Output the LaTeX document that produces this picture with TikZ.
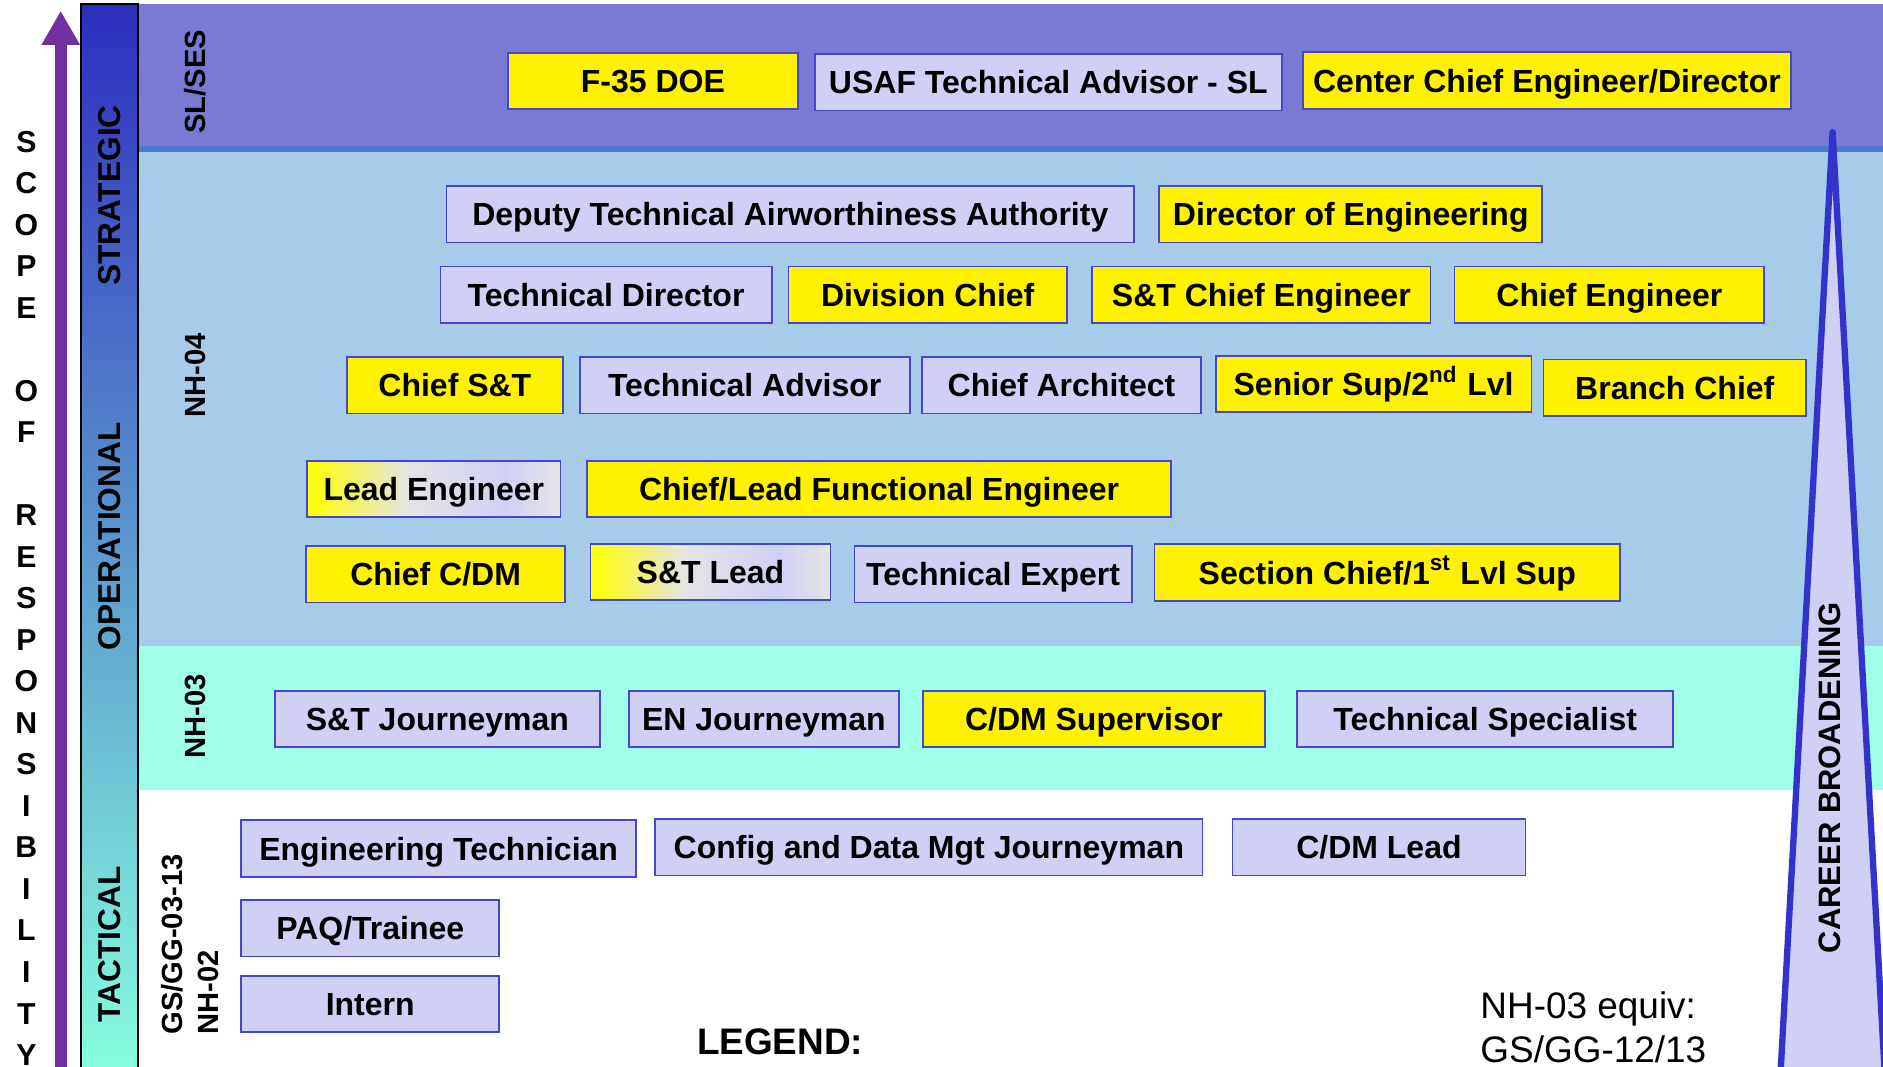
\documentclass[tikz,border=0pt]{standalone}
\usepackage{fontspec}
\setmainfont{Liberation Sans}
\usetikzlibrary{arrows.meta}

\definecolor{slband}{RGB}{122,122,213}
\definecolor{slline}{RGB}{78,122,206}
\definecolor{nhfour}{RGB}{166,204,234}
\definecolor{nhthree}{RGB}{160,255,232}
\definecolor{lav}{RGB}{208,208,244}
\definecolor{boxline}{RGB}{70,70,205}
\definecolor{scopepurple}{RGB}{112,48,160}
\definecolor{bartop}{RGB}{46,46,190}
\definecolor{barmid}{RGB}{86,164,208}
\definecolor{barbot}{RGB}{135,255,222}
\definecolor{careerline}{RGB}{51,51,204}
\definecolor{gradgray}{RGB}{228,228,230}

\pgfdeclarehorizontalshading{leadshade}{100bp}{color(0bp)=(yellow); color(25bp)=(yellow); color(45bp)=(gradgray); color(64bp)=(lav); color(75bp)=(gradgray); color(100bp)=(gradgray)}

\tikzset{
  rolebox/.style={draw=boxline, line width=0.5pt, minimum height=0.564cm, inner sep=0pt, text height=6.6pt, text depth=0pt, font=\fontsize{9.1}{11}\selectfont\bfseries},
  ybox/.style={rolebox, fill=yellow},
  lbox/.style={rolebox, fill=lav},
  gbox/.style={rolebox, shading=leadshade},
  boxw/.style={minimum width=#1*0.012cm},
  side/.style={rotate=90, inner sep=0pt, font=\fontsize{8.3}{10.2}\selectfont\bfseries},
  tier/.style={rotate=90, inner sep=0pt, font=\fontsize{9}{11}\selectfont\bfseries},
  letter/.style={inner sep=0pt, font=\fontsize{8.6}{10}\selectfont\bfseries},
}

\begin{document}
\begin{tikzpicture}[x=0.012cm, y=-0.012cm]
\useasboundingbox (0,0) rectangle (1569,889);
\clip (0,0) rectangle (1569,889);

\fill[white] (0,0) rectangle (1569,889);
\fill[slband] (115,3.3) rectangle (1569,122);
\fill[slline] (115,122) rectangle (1569,127);
\fill[nhfour] (115,127) rectangle (1569,538);
\fill[nhthree] (115,538) rectangle (1569,658);

\shade[top color=bartop, middle color=barmid, bottom color=barbot] (67.5,3.3) rectangle (115,895);
\draw[line width=0.6pt] (67.5,3.3) rectangle (115,895);

\coordinate (scopebase) at (50.6,895);
\coordinate (scopetip) at (50.6,9);
\draw[scopepurple, line width=0.12cm, -{Triangle[length=0.34cm, width=0.36cm]}] (scopebase) -- (scopetip);

\foreach \ch/\i in {S/0,C/1,O/2,P/3,E/4,O/6,F/7,R/9,E/10,S/11,P/12,O/13,N/14,S/15,I/16,B/17,I/18,L/19,I/20,T/21,Y/22}
  \node[letter] (sc\i) at (22,118+34.6*\i) {\ch};

\node[tier] (strategic) at (91,163) {STRATEGIC};
\node[tier] (operational) at (91,447) {OPERATIONAL};
\node[tier] (tactical) at (91,787) {TACTICAL};

\node[side] (slses) at (163,68) {SL/SES};
\node[side] (nh04) at (163,313) {NH-04};
\node[side] (nh03) at (163,597) {NH-03};
\node[side, align=left] (gsgg) at (158.5,787) {GS/GG-03-13\\NH-02};

\coordinate (cbleft) at (1483,905);
\coordinate (cbtop) at (1527,110);
\coordinate (cbright) at (1571,905);
\draw[careerline, fill=lav, line width=1.8pt, line join=round] (cbleft) -- (cbtop) -- (cbright);
\node[rotate=90, inner sep=0pt, font=\fontsize{8.8}{10}\selectfont\bfseries] (career) at (1525,648) {CAREER BROADENING};

\node[ybox, boxw=242] (f35) at (544,67.5) {F-35 DOE};
\node[lbox, boxw=389] (usaf) at (873.5,68.5) {USAF Technical Advisor - SL};
\node[ybox, boxw=406] (ccedir) at (1289,67) {Center Chief Engineer/Director};

\node[lbox, boxw=573] (dtaa) at (658.5,178.5) {Deputy Technical Airworthiness Authority};
\node[ybox, boxw=319] (doe) at (1125.5,178.5) {Director of Engineering};

\node[lbox, boxw=276] (techdir) at (505,245.5) {Technical Director};
\node[ybox, boxw=232] (divchief) at (773,245.5) {Division Chief};
\node[ybox, boxw=282] (stce) at (1051,245.5) {S\&T Chief Engineer};
\node[ybox, boxw=258] (chiefeng) at (1341,245.5) {Chief Engineer};

\node[ybox, boxw=180] (chiefst) at (379,321) {Chief S\&T};
\node[lbox, boxw=275] (techadv) at (620.5,321) {Technical Advisor};
\node[lbox, boxw=233] (chiefarch) at (884.5,321) {Chief Architect};
\node[ybox, boxw=263] (srsup) at (1144.5,320) {Senior Sup/2\textsuperscript{nd} Lvl};
\node[ybox, boxw=219] (branch) at (1395.5,323) {Branch Chief};

\node[gbox, boxw=211] (leadeng) at (361.5,407.5) {Lead Engineer};
\node[ybox, boxw=487] (clfe) at (732.5,407.5) {Chief/Lead Functional Engineer};

\node[ybox, boxw=216] (chiefcdm) at (363,478.5) {Chief C/DM};
\node[gbox, boxw=200] (stlead) at (592,476.5) {S\&T Lead};
\node[lbox, boxw=231] (techexp) at (827.5,478.5) {Technical Expert};
\node[ybox, boxw=388] (secchief) at (1156,477) {Section Chief/1\textsuperscript{st} Lvl Sup};

\node[lbox, boxw=271] (stjm) at (364.5,599) {S\&T Journeyman};
\node[lbox, boxw=225] (enjm) at (636.5,599) {EN Journeyman};
\node[ybox, boxw=285] (cdmsup) at (911.5,599) {C/DM Supervisor};
\node[lbox, boxw=313] (techspec) at (1237.5,599) {Technical Specialist};

\node[lbox, boxw=329] (engtech) at (365.5,707) {Engineering Technician};
\node[lbox, boxw=456] (cdmjm) at (774,706) {Config and Data Mgt Journeyman};
\node[lbox, boxw=244] (cdmlead) at (1149,706) {C/DM Lead};
\node[lbox, boxw=215] (paq) at (308.5,773.5) {PAQ/Trainee};
\node[lbox, boxw=215] (intern) at (308.5,836.5) {Intern};

\node[inner sep=0pt, font=\fontsize{10.5}{12}\selectfont\bfseries] (legend) at (650,868) {LEGEND:};
\node[anchor=north west, inner sep=0pt, align=left, font=\fontsize{10.5}{12.4}\selectfont] (equiv) at (1233,826) {NH-03 equiv:\\GS/GG-12/13};
\end{tikzpicture}
\end{document}
